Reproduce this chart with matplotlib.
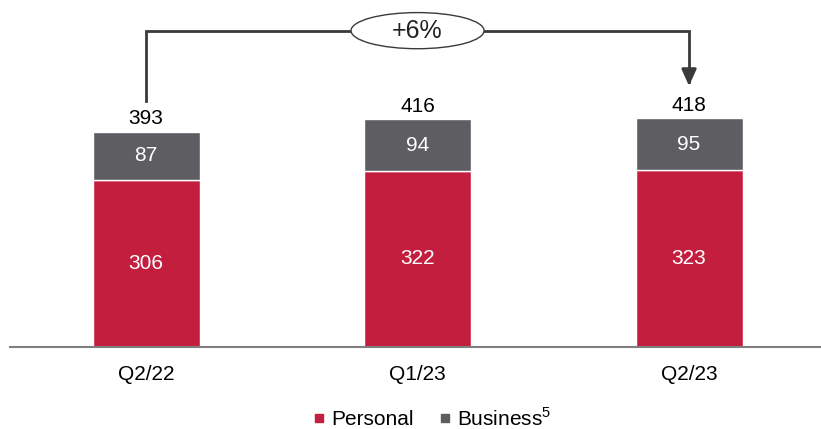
import matplotlib
matplotlib.use("Agg")
import matplotlib.pyplot as plt
from matplotlib.patches import Ellipse
from matplotlib.lines import Line2D

plt.rcParams["font.family"] = ["Liberation Sans", "DejaVu Sans"]
plt.rcParams["mathtext.fontset"] = "custom"
plt.rcParams["mathtext.rm"] = "Liberation Sans"

# Datos
categorias = ["Q2/22", "Q1/23", "Q2/23"]
personal = [306, 322, 323]
business = [87, 94, 95]
totales = [393, 416, 418]
cambio = "+6%"

ROJO = "#C41E3F"
GRIS = "#5E5D62"

fig = plt.figure(figsize=(8.21, 4.29), dpi=100)
ax = fig.add_axes([10 / 821, 82 / 429, 811 / 821, 347 / 429])

x = list(range(len(categorias)))
ancho = 0.394

ax.bar(x, personal, width=ancho, color=ROJO, edgecolor="white", linewidth=1)
ax.bar(x, business, width=ancho, bottom=personal, color=GRIS, edgecolor="white", linewidth=1)

for i in x:
    ax.text(i, personal[i] / 2, str(personal[i]), ha="center", va="center",
            color="white", fontsize=15)
    ax.text(i, personal[i] + business[i] / 2, str(business[i]), ha="center",
            va="center", color="white", fontsize=15)
    ax.text(i, totales[i] + 24, str(totales[i]), ha="center", va="center",
            color="black", fontsize=15)

ax.set_xlim(-0.501, 2.486)
ax.set_ylim(0, 634)
ax.set_xticks(x)
ax.set_xticklabels(categorias, fontsize=15)
ax.tick_params(axis="x", length=0, pad=13)
ax.set_yticks([])
for lado in ["top", "right", "left"]:
    ax.spines[lado].set_visible(False)
ax.spines["bottom"].set_color("#7F7F7F")
ax.spines["bottom"].set_linewidth(1.5)

# Flecha de variacion
y_linea = 578
ax.plot([0, 0, 2, 2], [450, y_linea, y_linea, 485], color="#3A3A3A",
        linewidth=2, clip_on=False, solid_joinstyle="miter")
ax.annotate("", xy=(2, 472), xytext=(2, 500),
            arrowprops=dict(arrowstyle="-|>,head_length=1.0,head_width=0.45",
                            color="#3A3A3A", lw=2),
            annotation_clip=False)
elipse = Ellipse((1, y_linea), width=0.49, height=66, facecolor="white",
                 edgecolor="#3A3A3A", linewidth=1, clip_on=False, zorder=3)
ax.add_patch(elipse)
ax.text(1, y_linea, cambio, ha="center", va="center", fontsize=18, zorder=4,
        color="#222222")

# Leyenda
handles = [
    Line2D([], [], marker="s", linestyle="none", color=ROJO, markersize=5.5),
    Line2D([], [], marker="s", linestyle="none", color=GRIS, markersize=5.5),
]
fig.legend(handles, ["Personal", "Business$^5$"], loc="center",
           bbox_to_anchor=(430 / 821, 1 - 418 / 429), ncol=2, frameon=False,
           fontsize=15, handletextpad=0.1, columnspacing=1.0, handlelength=1)

fig.savefig("out.png", dpi=100)
